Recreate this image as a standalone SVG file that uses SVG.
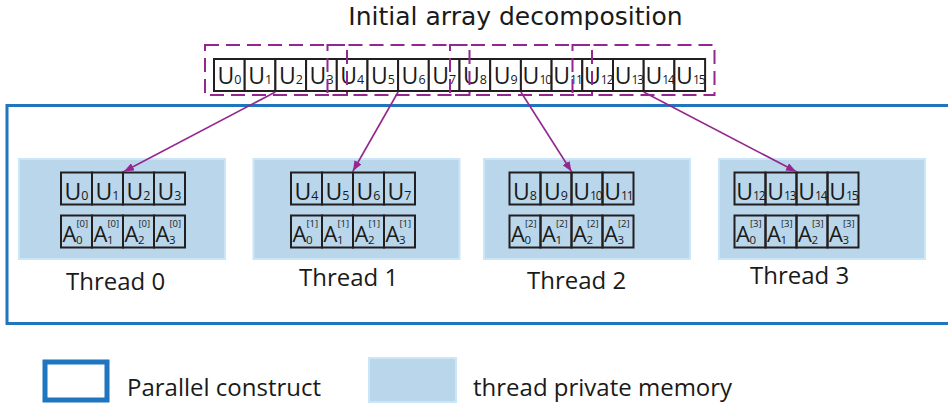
<svg xmlns="http://www.w3.org/2000/svg" width="948" height="406" viewBox="0 0 948 406">
<defs>
<style>
.t{font-family:"Open Sans","Noto Sans",sans-serif;fill:#1a1a1a}
.title{font-family:"DejaVu Sans",sans-serif;font-size:25px;fill:#1a1a1a}
.lbl{font-size:24px}
.leg{font-size:24px}
.u{font-size:23px}
.a{font-size:22px}
.s{font-size:12.5px}
.s2{font-size:12px;letter-spacing:-1px}
.sp{font-size:9.5px}
.as{font-size:11.5px}
.cw{fill:#fff;stroke:#231f20;stroke-width:2}
.cp{fill:none;stroke:#231f20;stroke-width:2}
.panel{fill:#bad6ea;stroke:#cbe6f6;stroke-width:2}
.par{fill:none;stroke:#1f75be;stroke-width:3}
.dash{fill:none;stroke:#93278f;stroke-width:2;stroke-dasharray:14 7}
.arr{fill:none;stroke:#93278f;stroke-width:1.6;marker-end:url(#ah)}
</style>
<marker id="ah" markerWidth="11" markerHeight="8" refX="10" refY="4" orient="auto" markerUnits="userSpaceOnUse">
<path d="M0,0 L10,4 L0,8 Z" fill="#93278f"/>
</marker>
</defs>

<rect width="948" height="406" fill="#fff"/>

<text class="title" x="515.5" y="25" text-anchor="middle">Initial array decomposition</text>

<g id="parallel-construct">
<rect class="par" x="7" y="105.5" width="950" height="218"/>
</g>

<g id="initial-array">
<rect class="cw" x="214" y="59" width="30.7" height="32"/>
<rect class="cw" x="244.7" y="59" width="30.7" height="32"/>
<rect class="cw" x="275.4" y="59" width="30.7" height="32"/>
<rect class="cw" x="306.1" y="59" width="30.7" height="32"/>
<rect class="cw" x="336.8" y="59" width="30.7" height="32"/>
<rect class="cw" x="367.5" y="59" width="30.7" height="32"/>
<rect class="cw" x="398.1" y="59" width="30.7" height="32"/>
<rect class="cw" x="428.8" y="59" width="30.7" height="32"/>
<rect class="cw" x="459.5" y="59" width="30.7" height="32"/>
<rect class="cw" x="490.2" y="59" width="30.7" height="32"/>
<rect class="cw" x="520.9" y="59" width="30.7" height="32"/>
<rect class="cw" x="551.6" y="59" width="30.7" height="32"/>
<rect class="cw" x="582.3" y="59" width="30.7" height="32"/>
<rect class="cw" x="613" y="59" width="30.7" height="32"/>
<rect class="cw" x="643.7" y="59" width="30.7" height="32"/>
<rect class="cw" x="674.4" y="59" width="30.7" height="32"/>
<g class="t u">
<text x="217.5" y="84">U<tspan class="s">0</tspan></text>
<text x="248.2" y="84">U<tspan class="s">1</tspan></text>
<text x="278.9" y="84">U<tspan class="s">2</tspan></text>
<text x="309.6" y="84">U<tspan class="s">3</tspan></text>
<text x="340.3" y="84">U<tspan class="s">4</tspan></text>
<text x="371" y="84">U<tspan class="s">5</tspan></text>
<text x="401.6" y="84">U<tspan class="s">6</tspan></text>
<text x="432.3" y="84">U<tspan class="s">7</tspan></text>
<text x="463" y="84">U<tspan class="s">8</tspan></text>
<text x="493.7" y="84">U<tspan class="s">9</tspan></text>
<text x="522.6" y="84">U<tspan class="s2">10</tspan></text>
<text x="553.3" y="84">U<tspan class="s2">11</tspan></text>
<text x="584" y="84">U<tspan class="s2">12</tspan></text>
<text x="614.7" y="84">U<tspan class="s2">13</tspan></text>
<text x="645.4" y="84">U<tspan class="s2">14</tspan></text>
<text x="676.1" y="84">U<tspan class="s2">15</tspan></text>
</g>
</g>

<g id="decomposition-boxes">
<rect class="dash" x="205" y="45" width="142" height="50"/>
<rect class="dash" x="327.5" y="45" width="142" height="50"/>
<rect class="dash" x="450" y="45" width="142" height="50"/>
<rect class="dash" x="572.5" y="45" width="142" height="50"/>
</g>

<g id="thread0">
<rect class="panel" x="19" y="159" width="206" height="100"/>
<rect class="cp" x="61" y="172.5" width="31" height="32"/>
<rect class="cp" x="92" y="172.5" width="31" height="32"/>
<rect class="cp" x="123" y="172.5" width="31" height="32"/>
<rect class="cp" x="154" y="172.5" width="31" height="32"/>
<rect class="cp" x="61" y="215.5" width="31" height="32"/>
<rect class="cp" x="92" y="215.5" width="31" height="32"/>
<rect class="cp" x="123" y="215.5" width="31" height="32"/>
<rect class="cp" x="154" y="215.5" width="31" height="32"/>
<g class="t u">
<text x="64.5" y="199.5">U<tspan class="s">0</tspan></text>
<text x="95.5" y="199.5">U<tspan class="s">1</tspan></text>
<text x="126.5" y="199.5">U<tspan class="s">2</tspan></text>
<text x="157.5" y="199.5">U<tspan class="s">3</tspan></text>
</g>
<g class="t a">
<text x="62.5" y="241.5">A</text><text x="93.5" y="241.5">A</text><text x="124.5" y="241.5">A</text><text x="155.5" y="241.5">A</text>
</g>
<g class="t sp">
<text x="76.5" y="227">[0]</text><text x="107.5" y="227">[0]</text><text x="138.5" y="227">[0]</text><text x="169.5" y="227">[0]</text>
</g>
<g class="t as">
<text x="76" y="244">0</text><text x="107" y="244">1</text><text x="138" y="244">2</text><text x="169" y="244">3</text>
</g>
<text class="t lbl" x="66" y="290">Thread 0</text>
</g>

<g id="thread1">
<rect class="panel" x="253.5" y="159" width="206" height="100"/>
<rect class="cp" x="291" y="172.5" width="31" height="32"/>
<rect class="cp" x="322" y="172.5" width="31" height="32"/>
<rect class="cp" x="353" y="172.5" width="31" height="32"/>
<rect class="cp" x="384" y="172.5" width="31" height="32"/>
<rect class="cp" x="291" y="215.5" width="31" height="32"/>
<rect class="cp" x="322" y="215.5" width="31" height="32"/>
<rect class="cp" x="353" y="215.5" width="31" height="32"/>
<rect class="cp" x="384" y="215.5" width="31" height="32"/>
<g class="t u">
<text x="294.5" y="199.5">U<tspan class="s">4</tspan></text>
<text x="325.5" y="199.5">U<tspan class="s">5</tspan></text>
<text x="356.5" y="199.5">U<tspan class="s">6</tspan></text>
<text x="387.5" y="199.5">U<tspan class="s">7</tspan></text>
</g>
<g class="t a">
<text x="292.5" y="241.5">A</text><text x="323.5" y="241.5">A</text><text x="354.5" y="241.5">A</text><text x="385.5" y="241.5">A</text>
</g>
<g class="t sp">
<text x="306.5" y="227">[1]</text><text x="337.5" y="227">[1]</text><text x="368.5" y="227">[1]</text><text x="399.5" y="227">[1]</text>
</g>
<g class="t as">
<text x="306" y="244">0</text><text x="337" y="244">1</text><text x="368" y="244">2</text><text x="399" y="244">3</text>
</g>
<text class="t lbl" x="299" y="285.5">Thread 1</text>
</g>

<g id="thread2">
<rect class="panel" x="484" y="159" width="206" height="100"/>
<rect class="cp" x="509.5" y="172.5" width="31" height="32"/>
<rect class="cp" x="540.5" y="172.5" width="31" height="32"/>
<rect class="cp" x="571.5" y="172.5" width="31" height="32"/>
<rect class="cp" x="602.5" y="172.5" width="31" height="32"/>
<rect class="cp" x="509.5" y="215.5" width="31" height="32"/>
<rect class="cp" x="540.5" y="215.5" width="31" height="32"/>
<rect class="cp" x="571.5" y="215.5" width="31" height="32"/>
<rect class="cp" x="602.5" y="215.5" width="31" height="32"/>
<g class="t u">
<text x="513" y="199.5">U<tspan class="s">8</tspan></text>
<text x="544" y="199.5">U<tspan class="s">9</tspan></text>
<text x="573.2" y="199.5">U<tspan class="s2">10</tspan></text>
<text x="604.2" y="199.5">U<tspan class="s2">11</tspan></text>
</g>
<g class="t a">
<text x="511" y="241.5">A</text><text x="542" y="241.5">A</text><text x="573" y="241.5">A</text><text x="604" y="241.5">A</text>
</g>
<g class="t sp">
<text x="525" y="227">[2]</text><text x="556" y="227">[2]</text><text x="587" y="227">[2]</text><text x="618" y="227">[2]</text>
</g>
<g class="t as">
<text x="524.5" y="244">0</text><text x="555.5" y="244">1</text><text x="586.5" y="244">2</text><text x="617.5" y="244">3</text>
</g>
<text class="t lbl" x="527" y="289">Thread 2</text>
</g>

<g id="thread3">
<rect class="panel" x="719" y="159" width="206" height="100"/>
<rect class="cp" x="734.5" y="172.5" width="31" height="32"/>
<rect class="cp" x="765.5" y="172.5" width="31" height="32"/>
<rect class="cp" x="796.5" y="172.5" width="31" height="32"/>
<rect class="cp" x="827.5" y="172.5" width="31" height="32"/>
<rect class="cp" x="734.5" y="215.5" width="31" height="32"/>
<rect class="cp" x="765.5" y="215.5" width="31" height="32"/>
<rect class="cp" x="796.5" y="215.5" width="31" height="32"/>
<rect class="cp" x="827.5" y="215.5" width="31" height="32"/>
<g class="t u">
<text x="736.2" y="199.5">U<tspan class="s2">12</tspan></text>
<text x="767.2" y="199.5">U<tspan class="s2">13</tspan></text>
<text x="798.2" y="199.5">U<tspan class="s2">14</tspan></text>
<text x="829.2" y="199.5">U<tspan class="s2">15</tspan></text>
</g>
<g class="t a">
<text x="736" y="241.5">A</text><text x="767" y="241.5">A</text><text x="798" y="241.5">A</text><text x="829" y="241.5">A</text>
</g>
<g class="t sp">
<text x="750" y="227">[3]</text><text x="781" y="227">[3]</text><text x="812" y="227">[3]</text><text x="843" y="227">[3]</text>
</g>
<g class="t as">
<text x="749.5" y="244">0</text><text x="780.5" y="244">1</text><text x="811.5" y="244">2</text><text x="842.5" y="244">3</text>
</g>
<text class="t lbl" x="750" y="284">Thread 3</text>
</g>

<g id="connectors">
<line class="arr" x1="275.4" y1="92" x2="124" y2="171.5"/>
<line class="arr" x1="398.1" y1="92" x2="353" y2="171"/>
<line class="arr" x1="520.9" y1="92" x2="571.5" y2="171.5"/>
<line class="arr" x1="643.7" y1="92" x2="796" y2="171.5"/>
</g>

<g id="legend">
<rect class="par" x="45" y="362" width="62" height="38" style="stroke-width:5"/>
<text class="t leg" x="127" y="396">Parallel construct</text>
<rect class="panel" x="369" y="358" width="87" height="44"/>
<text class="t leg" x="473" y="396">thread private memory</text>
</g>
</svg>
